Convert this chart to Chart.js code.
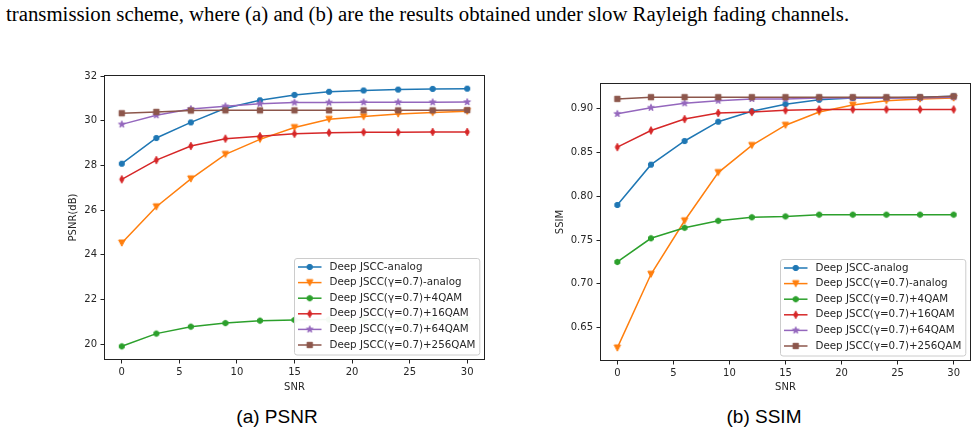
<!DOCTYPE html>
<html>
<head>
<meta charset="utf-8">
<script src="https://cdn.jsdelivr.net/npm/chart.js@4.4.1/dist/chart.umd.min.js"></script>
<style>
  body { margin: 0; width: 978px; height: 435px; position: relative; overflow: hidden; background: #fff; }
  .cap { position: absolute; left: 6px; top: 2.5px; font-family: "Liberation Serif", serif; font-size: 20.8px; line-height: 21px; white-space: nowrap; color: #000; }
  .panel { position: absolute; top: 0; width: 489px; height: 400px; }
  .sub { position: absolute; top: 407px; width: 200px; text-align: center; font-family: "Liberation Sans", sans-serif; font-size: 19px; line-height: 19px; color: #000; }
</style>
</head>
<body>
<div class="cap">transmission scheme, where (a) and (b) are the results obtained under slow Rayleigh fading channels.</div>
<div class="panel" style="left:0"><canvas id="chart_psnr" width="489" height="400"></canvas></div>
<div class="panel" style="left:489px"><canvas id="chart_ssim" width="489" height="400"></canvas></div>
<div class="sub" style="left:177px">(a) PSNR</div>
<div class="sub" style="left:664px">(b) SSIM</div>

<script>
// x values (channel SNR, dB)
var snr = [0, 3, 6, 9, 12, 15, 18, 21, 24, 27, 30];

var seriesNames = [
    'Deep JSCC-analog',
    'Deep JSCC(\u03b3=0.7)-analog',
    'Deep JSCC(\u03b3=0.7)+4QAM',
    'Deep JSCC(\u03b3=0.7)+16QAM',
    'Deep JSCC(\u03b3=0.7)+64QAM',
    'Deep JSCC(\u03b3=0.7)+256QAM'
];

var snrTicks  = [0, 5, 10, 15, 20, 25, 30];
var psnrTicks = [20, 22, 24, 26, 28, 30, 32];
var ssimTicks = [0.65, 0.70, 0.75, 0.80, 0.85, 0.90];

// (a) PSNR
var psnrAnalog      = [28.08, 29.23, 29.93, 30.56, 30.92, 31.16, 31.30, 31.36, 31.40, 31.43, 31.44];
var psnrGammaAnalog = [24.53, 26.15, 27.40, 28.50, 29.17, 29.70, 30.07, 30.19, 30.31, 30.37, 30.43];
var psnr4qam        = [19.90, 20.47, 20.78, 20.94, 21.05, 21.08, 21.10, 21.11, 21.12, 21.12, 21.12];
var psnr16qam       = [27.38, 28.24, 28.87, 29.20, 29.31, 29.42, 29.47, 29.49, 29.49, 29.50, 29.50];
var psnr64qam       = [29.84, 30.25, 30.53, 30.65, 30.77, 30.82, 30.82, 30.83, 30.83, 30.83, 30.84];
var psnr256qam      = [30.34, 30.40, 30.46, 30.47, 30.47, 30.47, 30.47, 30.47, 30.47, 30.47, 30.48];

// (b) SSIM
var ssimAnalog      = [0.790, 0.836, 0.863, 0.885, 0.897, 0.905, 0.910, 0.912, 0.912, 0.913, 0.914];
var ssimGammaAnalog = [0.627, 0.711, 0.772, 0.827, 0.858, 0.881, 0.896, 0.904, 0.909, 0.911, 0.912];
var ssim4qam        = [0.725, 0.752, 0.764, 0.772, 0.776, 0.777, 0.779, 0.779, 0.779, 0.779, 0.779];
var ssim16qam       = [0.856, 0.875, 0.888, 0.895, 0.896, 0.898, 0.899, 0.899, 0.899, 0.899, 0.899];
var ssim64qam       = [0.894, 0.901, 0.906, 0.909, 0.911, 0.911, 0.912, 0.912, 0.912, 0.912, 0.913];
var ssim256qam      = [0.911, 0.913, 0.913, 0.913, 0.913, 0.913, 0.913, 0.913, 0.913, 0.913, 0.914];

var colors = ['#1f77b4', '#ff7f0e', '#2ca02c', '#d62728', '#9467bd', '#8c564b'];
var shapes = ['circle', 'triangleDown', 'hexagon', 'thinDiamond', 'star', 'square'];
var TEXT = '#262626';

Chart.defaults.font.family = '"DejaVu Sans", sans-serif';

function makeMarker(shape, color) {
    var c = document.createElement('canvas');
    c.width = 12;
    c.height = 12;
    var g = c.getContext('2d');
    g.fillStyle = color;
    g.strokeStyle = color;
    g.lineWidth = 1;
    g.translate(6, 6);
    g.beginPath();
    var i, a, r;
    if (shape === 'circle') {
        g.arc(0, 0, 2.7, 0, Math.PI * 2);
    } else if (shape === 'triangleDown') {
        g.moveTo(-3.2, -3.0);
        g.lineTo(3.2, -3.0);
        g.lineTo(0, 3.2);
        g.closePath();
    } else if (shape === 'hexagon') {
        for (i = 0; i < 6; i++) {
            a = -Math.PI / 2 + i * Math.PI / 3;
            g.lineTo(2.9 * Math.cos(a), 2.9 * Math.sin(a));
        }
        g.closePath();
    } else if (shape === 'thinDiamond') {
        g.moveTo(0, -3.8);
        g.lineTo(2.1, 0);
        g.lineTo(0, 3.8);
        g.lineTo(-2.1, 0);
        g.closePath();
    } else if (shape === 'star') {
        for (i = 0; i < 10; i++) {
            a = -Math.PI / 2 + i * Math.PI / 5;
            r = (i % 2 === 0) ? 3.5 : 1.4;
            g.lineTo(r * Math.cos(a), r * Math.sin(a));
        }
        g.closePath();
    } else {
        g.rect(-2.7, -2.7, 5.4, 5.4);
    }
    g.fill();
    g.stroke();
    return c;
}

var markers = shapes.map(function(s, i) { return makeMarker(s, colors[i]); });

function buildDatasets(series) {
    return series.map(function(vals, i) {
        return {
            label: seriesNames[i],
            data: snr.map(function(x, k) { return {x: x, y: vals[k]}; }),
            borderColor: colors[i],
            backgroundColor: colors[i],
            borderWidth: 1.5,
            pointStyle: markers[i],
            pointRadius: 3,
            pointHoverRadius: 3,
            tension: 0,
            order: series.length - i   // later series drawn on top, like matplotlib
        };
    });
}

// box round the axes + legend in the lower right corner
var framePlugin = {
    id: 'frameAndLegend',
    afterDraw: function(chart) {
        var ctx = chart.ctx, area = chart.chartArea;
        ctx.save();
        ctx.strokeStyle = '#222';
        ctx.lineWidth = 1;
        ctx.strokeRect(area.left, area.top, area.right - area.left, area.bottom - area.top);

        ctx.font = '10.3px "DejaVu Sans"';
        var textW = 0;
        seriesNames.forEach(function(n) { textW = Math.max(textW, ctx.measureText(n).width); });
        var rowH = 15.6;
        var w = 3.5 + 23.5 + 8 + textW + 4.5;
        var h = 8.5 + rowH * (seriesNames.length - 1) + 10;
        var x = Math.round(area.right - 5 - w) + 0.5;
        var y = Math.round(area.bottom - 5.5 - h) + 0.5;

        ctx.beginPath();
        ctx.roundRect(x, y, w, h, 2.5);
        ctx.fillStyle = 'rgba(255,255,255,0.95)';
        ctx.fill();
        ctx.strokeStyle = '#cccccc';
        ctx.stroke();

        seriesNames.forEach(function(name, i) {
            var ly = y + 8.5 + i * rowH;
            ctx.beginPath();
            ctx.moveTo(x + 3.5, ly);
            ctx.lineTo(x + 27, ly);
            ctx.strokeStyle = colors[i];
            ctx.lineWidth = 1.5;
            ctx.stroke();
            ctx.drawImage(markers[i], x + 15.25 - 6, ly - 6);
            ctx.fillStyle = TEXT;
            ctx.textBaseline = 'middle';
            ctx.textAlign = 'left';
            ctx.fillText(name, x + 35, ly);
        });
        ctx.restore();
    }
};

function createChart(context, series, yRange, yTicks, yLabel, yDigits, geo) {
    var ctx = document.getElementById(context).getContext('2d');
    return new Chart(ctx, {
        type: 'line',
        data: {datasets: buildDatasets(series)},
        options: {
            responsive: false,
            animation: false,
            devicePixelRatio: 1,
            layout: {padding: geo.padding},
            plugins: {legend: {display: false}, tooltip: {enabled: false}},
            scales: {
                x: {
                    type: 'linear',
                    min: -1.5,
                    max: 31.5,
                    afterBuildTicks: function(s) { s.ticks = snrTicks.map(function(v) { return {value: v}; }); },
                    afterFit: function(s) { s.height = geo.xHeight; },
                    grid: {display: true, drawOnChartArea: false, drawTicks: true, tickLength: 4, color: '#222', lineWidth: 1},
                    border: {display: false},
                    ticks: {color: TEXT, font: {size: 10}, padding: 3, maxRotation: 0, autoSkip: false},
                    title: {display: true, text: 'SNR', color: TEXT, font: {size: 10}, padding: {top: 4, bottom: 4}}
                },
                y: {
                    type: 'linear',
                    min: yRange[0],
                    max: yRange[1],
                    afterBuildTicks: function(s) { s.ticks = yTicks.map(function(v) { return {value: v}; }); },
                    afterFit: function(s) { s.width = geo.yWidth; },
                    grid: {display: true, drawOnChartArea: false, drawTicks: true, tickLength: 4, color: '#222', lineWidth: 1},
                    border: {display: false},
                    ticks: {color: TEXT, font: {size: 10}, padding: 3.5, autoSkip: false,
                        callback: function(v) { return v.toFixed(yDigits); }},
                    title: {display: true, text: yLabel, color: TEXT, font: {size: 10}, padding: {top: 4, bottom: 4}}
                }
            }
        },
        plugins: [framePlugin]
    });
}

createChart('chart_psnr',
    [psnrAnalog, psnrGammaAnalog, psnr4qam, psnr16qam, psnr64qam, psnr256qam],
    [19.31, 32.03], psnrTicks, 'PSNR(dB)', 0,
    {padding: {left: 63, right: 4.5, top: 75.5, bottom: 3}, yWidth: 41.5, xHeight: 37.5});

createChart('chart_ssim',
    [ssimAnalog, ssimGammaAnalog, ssim4qam, ssim16qam, ssim64qam, ssim256qam],
    [0.6126, 0.9286], ssimTicks, 'SSIM', 2,
    {padding: {left: 61, right: 7.5, top: 83.5, bottom: 3}, yWidth: 50.5, xHeight: 36.5});
</script>
</body>
</html>
